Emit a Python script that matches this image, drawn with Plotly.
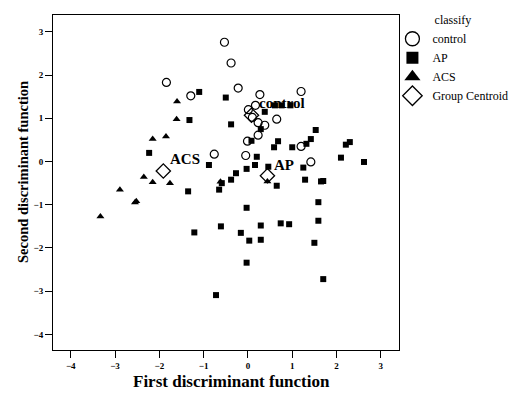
import plotly.graph_objects as go

# control group (open circles)
control_x = [-0.53, -0.38, -1.84, -0.22, -1.29, 0.27, 1.20, 0.17, 0.01, 0.10, 0.23, 0.38, 0.65, 0.23, -0.01, 1.20, -0.76, -0.05, 1.42]
control_y = [2.76, 2.28, 1.83, 1.70, 1.52, 1.55, 1.62, 1.30, 1.20, 1.02, 0.90, 0.84, 0.98, 0.61, 0.47, 0.35, 0.17, 0.14, -0.01]

# AP group (filled squares)
ap_x = [-1.10, -0.50, -1.32, -0.38, 0.38, 0.61, 0.76, 0.96, 0.29, 1.53, 1.42, 1.32, 1.00, 0.68, 0.59, 0.08,
        2.30, 2.21, 2.10, 2.62, -2.23, -0.88, 0.20, 0.16, -0.03, -0.27, 0.46, 1.25, -0.38, -0.59, 0.65, 1.29,
        1.70, 1.65, -1.35, -0.65, 1.59, -0.03, 1.59, -1.21, -0.61, -0.16, 0.29, 0.74, 0.93, 0.03, 0.29, 1.50,
        -0.03, 1.70, -0.72]
ap_y = [1.61, 1.48, 0.96, 0.86, 1.15, 1.30, 1.30, 1.30, 0.75, 0.73, 0.52, 0.41, 0.33, 0.47, 0.33, 0.48,
        0.45, 0.39, 0.09, -0.01, 0.20, -0.08, 0.11, -0.08, -0.17, -0.27, -0.12, -0.14, -0.42, -0.50, -0.56, -0.42,
        -0.45, -0.46, -0.69, -0.65, -0.94, -1.07, -1.37, -1.64, -1.50, -1.65, -1.48, -1.43, -1.45, -1.83, -1.81, -1.88,
        -2.34, -2.72, -3.09]

# ACS group (filled triangles)
acs_x = [-1.60, -1.61, -2.15, -1.85, -2.35, -2.15, -1.76, -2.89, -2.55, -2.52, -3.33, 0.44, -0.62]
acs_y = [1.39, 0.98, 0.52, 0.58, -0.36, -0.48, -0.50, -0.65, -0.95, -0.92, -1.27, -0.46, -0.47]

# group centroids
centroid_names = ["control", "ACS", "AP"]
centroid_x = [0.08, -1.91, 0.44]
centroid_y = [1.07, -0.22, -0.33]
label_x = [0.78, -1.42, 0.81]
label_y = [1.36, 0.07, -0.08]

ticks = [-4, -3, -2, -1, 0, 1, 2, 3]

serif = "Liberation Serif"
fig = go.Figure()

styles = [
    ("control", control_x, control_y, dict(symbol="circle-open", size=8, color="black", line=dict(width=1.2)),
     dict(symbol="circle-open", size=14, color="black", line=dict(width=1.3))),
    ("AP", ap_x, ap_y, dict(symbol="square", size=6, color="black"),
     dict(symbol="square", size=12, color="black")),
    ("ACS", acs_x, acs_y, dict(symbol="triangle-up", size=7, color="black"),
     dict(symbol="triangle-up", size=14, color="black")),
    ("Group Centroid", centroid_x, centroid_y, dict(symbol="diamond-open", size=11, color="black", line=dict(width=1.3)),
     dict(symbol="diamond-open", size=15, color="black", line=dict(width=1.3))),
]
for name, xs, ys, mk, lmk in styles:
    fig.add_trace(go.Scatter(x=xs, y=ys, mode="markers", name=name, marker=mk, showlegend=False))
for name, xs, ys, mk, lmk in styles:
    fig.add_trace(go.Scatter(x=[None], y=[None], mode="markers", name=name, marker=lmk, showlegend=True))

for n, lx, ly in zip(centroid_names, label_x, label_y):
    fig.add_annotation(x=lx, y=ly, text=n, showarrow=False,
                       font=dict(family=serif, size=15, color="black", weight="bold"))

# axis titles
fig.add_annotation(xref="paper", yref="paper", x=0.517, y=-0.094, text="First discriminant function",
                   showarrow=False, xanchor="center", yanchor="middle",
                   font=dict(family=serif, size=17, color="black", weight="bold"))
fig.add_annotation(xref="paper", yref="paper", x=-0.087, y=0.531, text="Second discriminant function",
                   showarrow=False, xanchor="center", yanchor="middle", textangle=-90,
                   font=dict(family=serif, size=14.5, color="black", weight="bold"))

axis_common = dict(showgrid=False, zeroline=False, showline=True, linecolor="black", linewidth=1,
                   mirror=True, ticks="outside", ticklen=7, tickcolor="black", automargin=False,
                   tickvals=ticks, tickfont=dict(family=serif, size=9, color="black", weight="bold"))
fig.update_xaxes(range=[-4.40, 3.41], **axis_common)
fig.update_yaxes(range=[-4.36, 3.39], **axis_common)

fig.update_layout(
    width=523, height=394,
    margin=dict(l=53, r=124, t=9, b=44),
    plot_bgcolor="white", paper_bgcolor="white",
    font=dict(family=serif, color="black"),
    legend=dict(x=0.981, y=1.019, xanchor="left", yanchor="top", itemsizing="trace",
                title=dict(text="classify", side="top center", font=dict(family=serif, size=12)),
                font=dict(family=serif, size=12), tracegroupgap=0, itemwidth=30,
                bgcolor="rgba(0,0,0,0)"),
    showlegend=True,
)

fig.write_html("out.html", config={"displayModeBar": False},
               post_script="document.body.style.margin='0px';")
